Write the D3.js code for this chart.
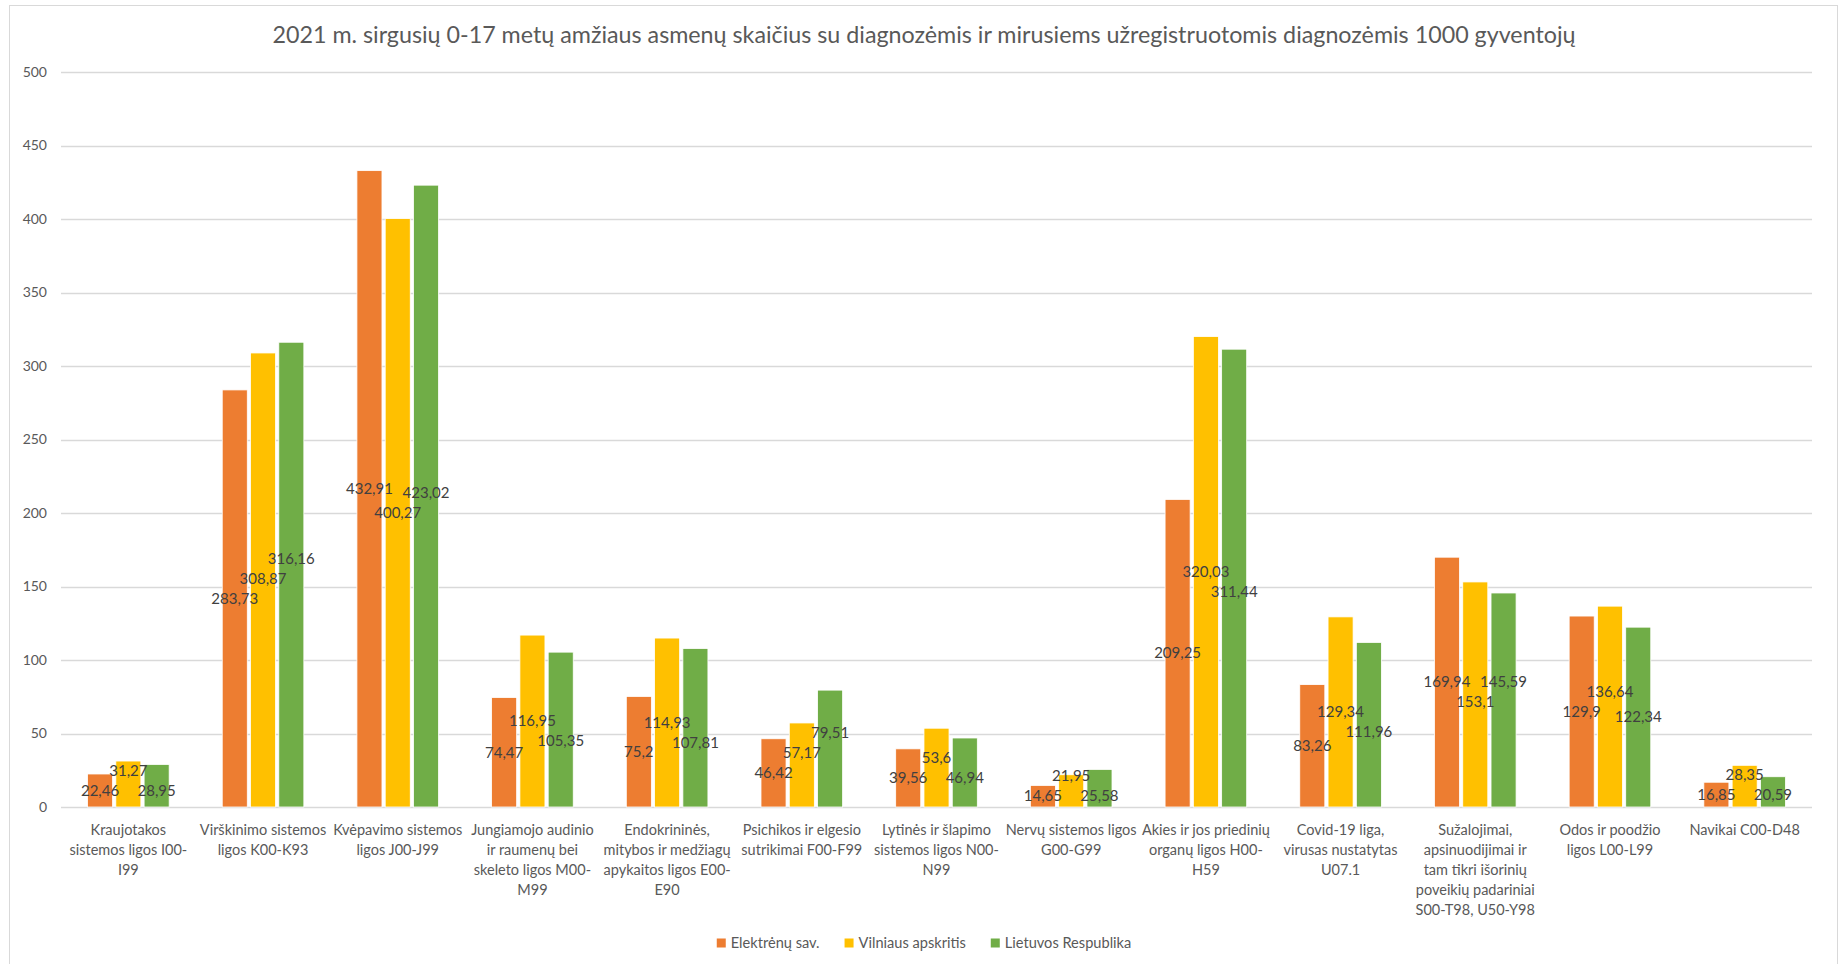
<!DOCTYPE html>
<html>
<head>
<meta charset="utf-8">
<script src="https://cdn.jsdelivr.net/npm/d3@7"></script>
<style>
  html, body { margin: 0; padding: 0; background: #fff; }
  svg { display: block; }
  text { font-family: Lato, "Open Sans", "Noto Sans", sans-serif; }
</style>
</head>
<body>
<svg id="chart" width="1845" height="964"></svg>
<script>
const title = "2021 m. sirgusių 0-17 metų amžiaus asmenų skaičius su diagnozėmis ir mirusiems užregistruotomis diagnozėmis 1000 gyventojų";

const categories = [
  ["Kraujotakos", "sistemos ligos I00-", "I99"],
  ["Virškinimo sistemos", "ligos K00-K93"],
  ["Kvėpavimo sistemos", "ligos J00-J99"],
  ["Jungiamojo audinio", "ir raumenų bei", "skeleto ligos M00-", "M99"],
  ["Endokrininės,", "mitybos ir medžiagų", "apykaitos ligos E00-", "E90"],
  ["Psichikos ir elgesio", "sutrikimai F00-F99"],
  ["Lytinės ir šlapimo", "sistemos ligos N00-", "N99"],
  ["Nervų sistemos ligos", "G00-G99"],
  ["Akies ir jos priedinių", "organų ligos H00-", "H59"],
  ["Covid-19 liga,", "virusas nustatytas", "U07.1"],
  ["Sužalojimai,", "apsinuodijimai ir", "tam tikri išorinių", "poveikių padariniai", "S00-T98, U50-Y98"],
  ["Odos ir poodžio", "ligos L00-L99"],
  ["Navikai C00-D48"]
];

const seriesNames = ["Elektrėnų sav.", "Vilniaus apskritis", "Lietuvos Respublika"];
const elektrenai = [22.46, 283.73, 432.91, 74.47, 75.2, 46.42, 39.56, 14.65, 209.25, 83.26, 169.94, 129.9, 16.85];
const vilniaus   = [31.27, 308.87, 400.27, 116.95, 114.93, 57.17, 53.6, 21.95, 320.03, 129.34, 153.1, 136.64, 28.35];
const lietuvos   = [28.95, 316.16, 423.02, 105.35, 107.81, 79.51, 46.94, 25.58, 311.44, 111.96, 145.59, 122.34, 20.59];
const yTicks = [0, 50, 100, 150, 200, 250, 300, 350, 400, 450, 500];

const seriesValues = [elektrenai, vilniaus, lietuvos];
const colors = ["#ED7D31", "#FFC000", "#70AD47"];

const plot = { left: 61, right: 1812, top: 72, bottom: 807 };
const chartCenter = 924;

const svg = d3.select("#chart");

// chart border
svg.append("rect")
  .attr("x", 9.5).attr("y", 5.5)
  .attr("width", 1828).attr("height", 970)
  .attr("fill", "#fff").attr("stroke", "#d9d9d9").attr("stroke-width", 1);

// title
const tEl = svg.append("text")
  .attr("x", chartCenter).attr("y", 43)
  .attr("text-anchor", "middle")
  .attr("fill", "#595959")
  .style("font-size", "23px")
  .text(title);
{
  const target = 1304;
  const w = tEl.node().getComputedTextLength();
  tEl.style("font-size", (23 * target / w).toFixed(2) + "px");
}

const x = d3.scaleBand()
  .domain(d3.range(categories.length))
  .range([plot.left, plot.right])
  .paddingInner(0).paddingOuter(0);

const y = d3.scaleLinear().domain([0, 500]).range([plot.bottom, plot.top]);

// gridlines
svg.append("g")
  .selectAll("line")
  .data(yTicks)
  .join("line")
  .attr("x1", plot.left).attr("x2", plot.right)
  .attr("y1", d => Math.round(y(d)) + 0.5).attr("y2", d => Math.round(y(d)) + 0.5)
  .attr("stroke", "#d9d9d9").attr("stroke-width", 1.3);

// y axis labels
const yAxis = d3.axisLeft(y).tickValues(yTicks).tickSize(0).tickPadding(0);
const yg = svg.append("g").attr("transform", `translate(47,0)`).call(yAxis);
yg.select(".domain").remove();
yg.selectAll("text")
  .attr("fill", "#595959")
  .style("font-size", "14px")
  .style("font-family", "Lato, 'Open Sans', sans-serif");

// bars
const bw = x.bandwidth();
const barW = bw * 0.186;
const pitch = bw * 0.21;
const fmt = v => String(v).replace(".", ",");

seriesValues.forEach((vals, si) => {
  const off = (si - 1) * pitch - barW / 2;
  svg.append("g")
    .selectAll("rect")
    .data(vals)
    .join("rect")
    .attr("x", (d, i) => x(i) + bw / 2 + off)
    .attr("width", barW)
    .attr("y", d => y(d))
    .attr("height", d => y(0) - y(d))
    .attr("fill", colors[si])
    .attr("stroke", "#fff").attr("stroke-width", 0.8);
});

// data labels: centred in the bar, nudged apart from the neighbouring label when they would collide
const sep = 20;
const labelData = [];
categories.forEach((c, i) => {
  let prevY = null;
  seriesValues.forEach((vals, si) => {
    const v = vals[i];
    const cy0 = y(v / 2);
    let cy = cy0;
    if (prevY !== null && Math.abs(cy - prevY) < sep) {
      cy = cy0 <= prevY ? prevY - sep : prevY + sep;
    }
    prevY = cy;
    labelData.push({ i, si, v, cy });
  });
});
svg.append("g")
  .selectAll("text")
  .data(labelData)
  .join("text")
  .attr("x", d => x(d.i) + bw / 2 + (d.si - 1) * pitch)
  .attr("y", d => d.cy)
  .attr("dy", "0.35em")
  .attr("text-anchor", "middle")
  .attr("fill", "#404040")
  .style("font-size", "15px")
  .text(d => fmt(d.v));

// category labels
const cg = svg.append("g");
categories.forEach((lines, i) => {
  const t = cg.append("text")
    .attr("x", x(i) + bw / 2)
    .attr("y", 835)
    .attr("text-anchor", "middle")
    .attr("fill", "#595959")
    .style("font-size", "14.5px");
  lines.forEach((ln, li) => {
    t.append("tspan")
      .attr("x", x(i) + bw / 2)
      .attr("dy", li === 0 ? 0 : 20)
      .text(ln);
  });
});

// legend
const lg = svg.append("g");
const items = [];
seriesNames.forEach((name, si) => {
  const it = lg.append("g");
  it.append("rect").attr("width", 9).attr("height", 9).attr("y", -4.5).attr("fill", colors[si]);
  const tx = it.append("text").attr("x", 14).attr("dy", "0.35em")
    .attr("fill", "#595959").style("font-size", "14.6px").text(name);
  items.push({ g: it, w: 14 + tx.node().getComputedTextLength() });
});
const gap = 25;
const total = d3.sum(items, d => d.w) + gap * (items.length - 1);
let cx = chartCenter - total / 2;
items.forEach(it => {
  it.g.attr("transform", `translate(${cx},943)`);
  cx += it.w + gap;
});
</script>
</body>
</html>
